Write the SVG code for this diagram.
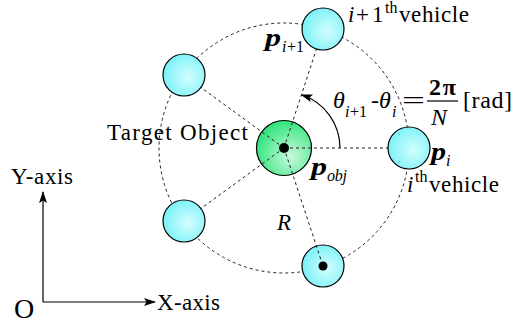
<svg xmlns="http://www.w3.org/2000/svg" width="517" height="327" viewBox="0 0 517 327">
<defs>
<radialGradient id="gc" cx="0.6" cy="0.55" r="0.6">
<stop offset="0" stop-color="#d4fdfe"/>
<stop offset="1" stop-color="#78f2f7"/>
</radialGradient>
<radialGradient id="gg" cx="0.62" cy="0.65" r="0.65">
<stop offset="0" stop-color="#c8f9dc"/>
<stop offset="1" stop-color="#34e47e"/>
</radialGradient>
<marker id="ah" viewBox="0 0 12 8" refX="11" refY="4" markerWidth="12" markerHeight="8" markerUnits="userSpaceOnUse" orient="auto">
<path d="M0,0 L12,4 L0,8 L2.5,4 z" fill="#000"/>
</marker>
</defs>
<style>
.it{font-style:italic}
.bi{font-style:italic;font-weight:bold}
.b{font-weight:bold}
.s24{font-size:24px}
.s26{font-size:26px}
.s28{font-size:28px}
.sub{font-size:16px}
.dash{fill:none;stroke:#222;stroke-width:1;stroke-dasharray:3 3}
.veh{fill:url(#gc);stroke:#000;stroke-width:1.2}
.solid{fill:none;stroke:#000;stroke-width:1.2}
</style>

<g id="target">
<circle cx="284" cy="148" r="27.5" fill="url(#gg)" stroke="#000" stroke-width="1.2"/>
</g>

<g id="connectors">
<circle class="dash" cx="284" cy="148" r="125"/>
<line class="dash" x1="284" y1="148" x2="409" y2="148"/>
<line class="dash" x1="284" y1="148" x2="323" y2="29"/>
<line class="dash" x1="284" y1="148" x2="183" y2="74.5"/>
<line class="dash" x1="284" y1="148" x2="183" y2="221.5"/>
<path class="solid" d="M340 148 A56 56 0 0 0 301.5 94.8" marker-end="url(#ah)"/>
<line class="solid" x1="43" y1="302" x2="43" y2="192" marker-end="url(#ah)"/>
<line class="solid" x1="43" y1="302" x2="155" y2="302" marker-end="url(#ah)"/>
</g>

<g id="vehicle-i">
<circle class="veh" cx="409" cy="148" r="21"/>
</g>
<g id="vehicle-i1">
<circle class="veh" cx="323" cy="29" r="21"/>
</g>
<g id="vehicle-3">
<circle class="veh" cx="184" cy="75" r="21"/>
</g>
<g id="vehicle-4">
<circle class="veh" cx="184" cy="221" r="21"/>
</g>
<g id="vehicle-5">
<circle class="veh" cx="323" cy="266" r="21"/>
<line class="dash" x1="284" y1="148" x2="323" y2="266"/>
<circle cx="323" cy="266" r="4.5" fill="#000"/>
</g>
<g id="center-dot">
<circle cx="284" cy="148" r="5" fill="#000"/>
</g>

<g id="labels" font-family="Liberation Serif, Times New Roman, serif" font-size="23" fill="#000">
<text y="22"><tspan x="348" class="it">i</tspan><tspan x="356">+</tspan><tspan x="372">1</tspan><tspan x="385" y="13" class="sub">th</tspan><tspan x="399" y="22" textLength="70">vehicle</tspan></text>
<text><tspan x="265" y="46" class="bi s26" textLength="16" lengthAdjust="spacingAndGlyphs">p</tspan><tspan x="282" y="52" class="sub it">i</tspan><tspan x="287" y="52" class="sub">+1</tspan></text>
<text class="s24"><tspan x="333" y="108" class="it">θ</tspan><tspan x="345" y="117" class="sub it">i</tspan><tspan x="350" y="117" class="sub">+1</tspan><tspan x="371" y="108">-</tspan><tspan x="379" y="108" class="it">θ</tspan><tspan x="392" y="117" class="sub it">i</tspan></text>
<text class="s24" x="402" y="108" textLength="23" lengthAdjust="spacingAndGlyphs">=</text>
<text class="s24 b" x="429" y="95" textLength="27">2π</text>
<line x1="427" y1="101" x2="458" y2="101" stroke="#000" stroke-width="1.2"/>
<text class="s24 it" x="431" y="125">N</text>
<text class="s24" x="463" y="108" textLength="49">[rad]</text>
<text x="107" y="140" textLength="141">Target Object</text>
<text><tspan x="311" y="175" class="bi s26" textLength="16" lengthAdjust="spacingAndGlyphs">p</tspan><tspan x="327" y="181" class="sub it" textLength="20">obj</tspan></text>
<text><tspan x="431" y="160" class="bi s26" textLength="15" lengthAdjust="spacingAndGlyphs">p</tspan><tspan x="446" y="166" class="sub it">i</tspan></text>
<text y="192"><tspan x="407" class="it">i</tspan><tspan x="415" y="182" class="sub">th</tspan><tspan x="429" y="192" textLength="70">vehicle</tspan></text>
<text class="it" x="277" y="230">R</text>
<text x="11" y="184" textLength="62">Y-axis</text>
<text class="s28" x="14" y="318">O</text>
<text x="157" y="310" textLength="63">X-axis</text>
</g>
</svg>
